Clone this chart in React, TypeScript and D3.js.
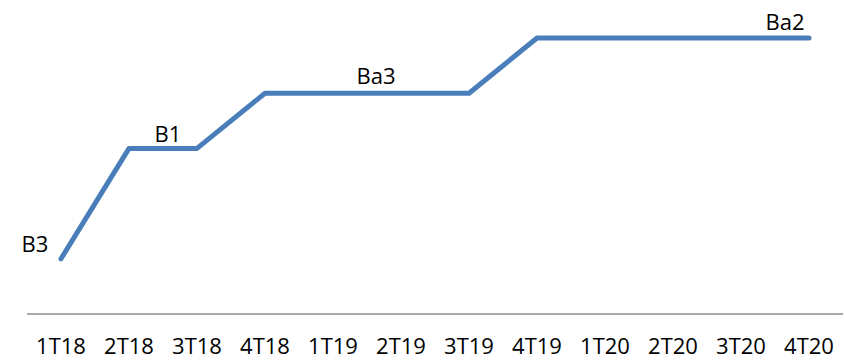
import React from "react";
import * as d3 from "d3";

const quarters = ["1T18", "2T18", "3T18", "4T18", "1T19", "2T19", "3T19", "4T19", "1T20", "2T20", "3T20", "4T20"];
// rating levels: 1=B3, 2=B2, 3=B1, 4=Ba3, 5=Ba2
const ratingLevels = [1, 3, 3, 4, 4, 4, 4, 5, 5, 5, 5, 5];
const labelIndices = [0, 1, 4, 11];
const labelTexts = ["B3", "B1", "Ba3", "Ba2"];

const W = 844;
const H = 361;
const FONT = "'Open Sans', 'Liberation Sans', sans-serif";

export default function App() {
  const x = d3.scaleBand<string>().domain(quarters).range([27, 843]);
  const y = d3.scaleLinear().domain([0, 5]).range([314, 38]);
  const cx = (q: string) => (x(q) as number) + x.bandwidth() / 2;

  const line = d3
    .line<number>()
    .x((_, i) => cx(quarters[i]))
    .y((d) => y(d));

  // label offsets (dx, dy) relative to point
  const offsets: [number, number][] = [
    [-26, -7],
    [39, -6],
    [43, -9],
    [-24, -8],
  ];

  return (
    <svg
      width={W}
      height={H}
      style={{ position: "absolute", left: 0, top: 0, background: "#fff" }}
    >
      <line x1={27} x2={843} y1={y(0)} y2={y(0)} stroke="#8c8c8c" strokeWidth={1.5} />
      <path
        d={line(ratingLevels) || ""}
        fill="none"
        stroke="#4a7ebb"
        strokeWidth={5}
        strokeLinejoin="round"
        strokeLinecap="round"
      />
      {labelIndices.map((idx, k) => (
        <text
          key={k}
          x={cx(quarters[idx]) + offsets[k][0]}
          y={y(ratingLevels[idx]) + offsets[k][1]}
          textAnchor="middle"
          fontFamily={FONT}
          fontSize={22}
          fill="#000"
        >
          {labelTexts[k]}
        </text>
      ))}
      {quarters.map((q) => (
        <text
          key={q}
          x={cx(q)}
          y={354}
          textAnchor="middle"
          fontFamily={FONT}
          fontSize={22}
          fill="#000"
        >
          {q}
        </text>
      ))}
    </svg>
  );
}
